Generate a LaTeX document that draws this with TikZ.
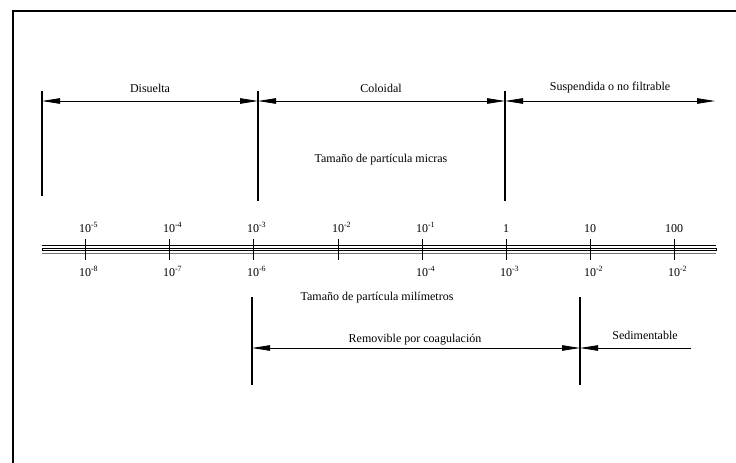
\documentclass[tikz,border=0pt]{standalone}
\usepackage{fontspec}
\setmainfont{Liberation Serif}
\usetikzlibrary{arrows.meta}
\tikzset{
  lbl/.style={inner sep=0pt, font=\fontsize{12}{14}\selectfont},
  dim/.style={line width=0.8pt, {Triangle[length=18pt,width=5.5pt]}-{Triangle[length=18pt,width=5.5pt]}},
  lim/.style={line width=1.1pt}
}
\newcommand{\pot}[1]{10\rlap{\textsuperscript{#1}}}
\begin{document}
\begin{tikzpicture}[x=1pt,y=-1pt]
    \useasboundingbox (0,0) rectangle (736,463);
    % marco
    \draw [line width=1.2pt] (13,463) -- (13,11) -- (736,11);
    % limites superiores
    \coordinate (a1) at (42,91);   \coordinate (a2) at (42,196);
    \coordinate (b1) at (258,91);  \coordinate (b2) at (258,201);
    \coordinate (c1) at (505,91);  \coordinate (c2) at (505,201);
    \draw [lim] (a1) -- (a2);
    \draw [lim] (b1) -- (b2);
    \draw [lim] (c1) -- (c2);
    \coordinate (ad) at (42,101);
    \coordinate (bd) at (258,101);
    \coordinate (cd) at (505,101);
    \coordinate (sd) at (715,101);
    \draw [dim] (ad) -- (bd);
    \draw [dim] (bd) -- (cd);
    \draw [dim] (cd) -- (sd);
    \node [lbl] (dis) at (150,88) {Disuelta};
    \node [lbl] (col) at (381,88) {Coloidal};
    \node [lbl] (sus) at (610,88) {Suspendida o no filtrable};
    \node [lbl] (mic) at (381,160) {Tamaño de partícula micras};
    % eje
    \coordinate (e0) at (42,245);  \coordinate (e1) at (716,245);
    \draw [line width=1pt] (e0) -- (e1);
    \draw [line width=0.6pt] (42,247.8) rectangle (716,250.4);
    \draw [line width=1pt, black!55] (42,253) -- (716,253);
    \foreach \x/\up/\dn [count=\i] in {85/\pot{-5}/\pot{-8}, 169/\pot{-4}/\pot{-7},
        253/\pot{-3}/\pot{-6}, 338/\pot{-2}/{}, 422/\pot{-1}/\pot{-4},
        506/1/\pot{-3}, 590/10/\pot{-2}, 674/100/\pot{-2}} {
      \draw [line width=1pt] (\x,239) -- (\x,260);
      \node [lbl, anchor=base] (u\i) at (\x,232) {\up};
      \node [lbl, anchor=base] (m\i) at (\x,276) {\dn};
    }
    \node [lbl] (mil) at (377,298) {Tamaño de partícula milímetros};
    % limites inferiores
    \coordinate (r1) at (252,297);  \coordinate (r2) at (252,385);
    \coordinate (s1) at (580,297);  \coordinate (s2) at (580,385);
    \draw [lim] (r1) -- (r2);
    \draw [lim] (s1) -- (s2);
    \coordinate (rd) at (252,348);
    \coordinate (sdd) at (580,348);
    \coordinate (fin) at (691,348);
    \draw [dim] (rd) -- (sdd);
    \draw [line width=0.8pt, -{Triangle[length=18pt,width=5.5pt]}] (fin) -- (sdd);
    \node [lbl] (rem) at (415,340) {Removible por coagulación};
    \node [lbl] (sed) at (645,335) {Sedimentable};
\end{tikzpicture}
\end{document}
